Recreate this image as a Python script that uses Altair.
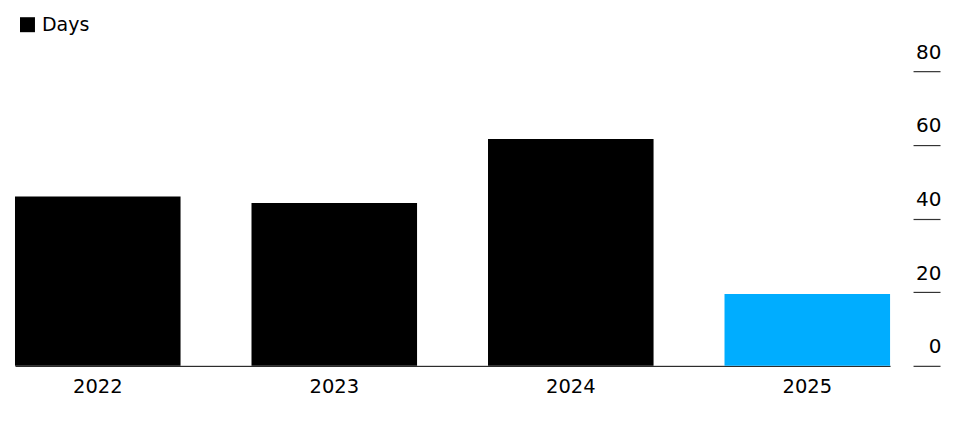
import altair as alt
import pandas as pd

years = ["2022", "2023", "2024", "2025"]
days = [46, 44.2, 61.6, 19.5]
series = ["Days", "Days", "Days", "Days"]
y_ticks = [0, 20, 40, 60, 80]

df = pd.DataFrame({"year": years, "days": days, "series": series})

FONT = "DejaVu Sans"

chart = alt.Chart(df).mark_bar().encode(
    x=alt.X(
        "year:N",
        scale=alt.Scale(range=[0, 876], paddingInner=0.3, paddingOuter=0),
        axis=alt.Axis(
            title=None, ticks=False, labelAngle=0, labelFontSize=19.5,
            labelPadding=12, labelColor="#000", labelFont=FONT,
            domainColor="#000", domainWidth=1,
        ),
    ),
    y=alt.Y(
        "days:Q",
        scale=alt.Scale(domain=[0, 80]),
        axis=alt.Axis(
            orient="right", values=y_ticks, offset=-27, tickSize=27,
            tickColor="#333", tickWidth=1.2,
            labelAlign="right", labelPadding=1, labelBaseline="alphabetic",
            labelOffset=-13, labelFontSize=20, labelColor="#000", labelFont=FONT,
            domain=False, grid=False, title=None,
        ),
    ),
    color=alt.condition(
        "datum.year == '2025'",
        alt.value("#00adff"),
        alt.Color(
            "series:N",
            scale=alt.Scale(domain=["Days"], range=["#000000"]),
            legend=alt.Legend(
                title=None, orient="none", legendX=3, legendY=-56,
                symbolType="square", symbolSize=225, symbolStrokeWidth=0,
                labelFontSize=19, labelFont=FONT, labelColor="#000",
                labelOffset=5,
            ),
        ),
    ),
).properties(
    width=926, height=295,
    autosize=alt.AutoSizeParams(type="none"),
    padding={"left": 7, "top": 63, "right": 10, "bottom": 60},
).configure_view(stroke=None)

chart.save("out.html", embed_options={"renderer": "svg", "actions": False})
